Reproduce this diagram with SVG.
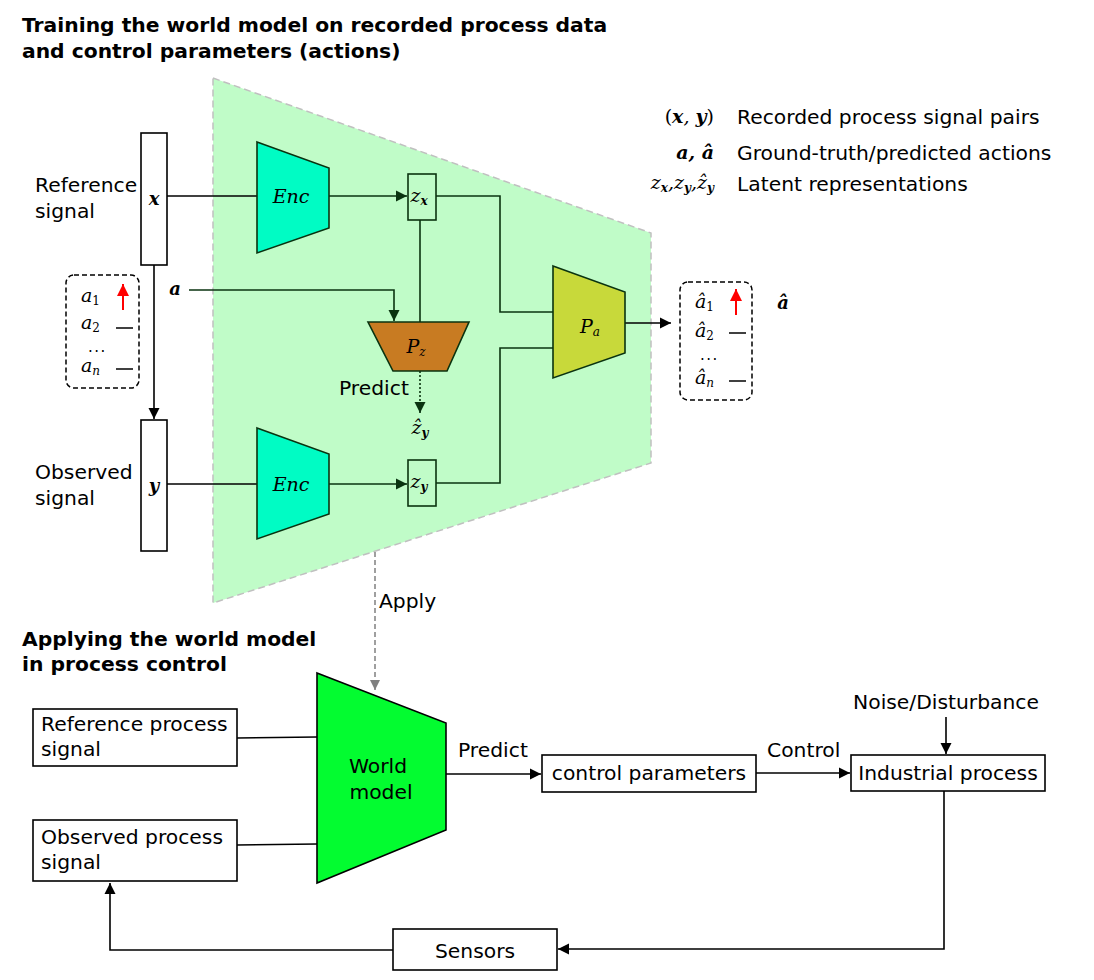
<svg xmlns="http://www.w3.org/2000/svg" width="1094" height="980" viewBox="0 0 1094 980">
<defs>
<style>
.t{font-family:"DejaVu Sans","Noto Sans",sans-serif;font-size:20.3px;fill:#000}
.h{font-family:"DejaVu Sans","Noto Sans",sans-serif;font-size:20.3px;font-weight:bold;fill:#000}
.m{font-family:"DejaVu Serif","Liberation Serif",serif;font-style:italic;font-size:19px;fill:#000}
.mb{font-family:"DejaVu Serif","Liberation Serif",serif;font-style:italic;font-weight:bold;font-size:18px;fill:#000}
.dots{font-family:"DejaVu Sans","Noto Sans",sans-serif;font-size:15px;letter-spacing:1.5px;fill:#000}
.sub{font-size:12px}
.up{font-style:normal}
.ln{fill:none;stroke:#000;stroke-width:1.6}
.lg{fill:none;stroke:#0a3310;stroke-width:1.6}
.box{fill:#fff;stroke:#000;stroke-width:1.6}
.zb{fill:#c0fcc8;stroke:#0a3310;stroke-width:1.6}
.dash{fill:#fff;stroke:#000;stroke-width:1.5;stroke-dasharray:5 3}
</style>
<marker id="ah" viewBox="0 0 10 10" refX="10" refY="5" markerWidth="7" markerHeight="7" orient="auto"><path d="M0,0 L10,5 L0,10 z" fill="#000"/></marker>
<marker id="ag" viewBox="0 0 10 10" refX="10" refY="5" markerWidth="7" markerHeight="7" orient="auto"><path d="M0,0 L10,5 L0,10 z" fill="#0a3310"/></marker>
<marker id="agr" viewBox="0 0 10 10" refX="10" refY="5" markerWidth="7" markerHeight="7" orient="auto"><path d="M0,0 L10,5 L0,10 z" fill="#808080"/></marker>
<marker id="ar" viewBox="0 0 10 10" refX="10" refY="5" markerWidth="6" markerHeight="6" orient="auto"><path d="M0,0 L10,5 L0,10 z" fill="#ff0000"/></marker>
</defs>
<rect width="1094" height="980" fill="#fff"/>

<g id="titles">
<text class="h" x="22" y="32">Training the world model on recorded process data</text>
<text class="h" x="22" y="58">and control parameters (actions)</text>
<text class="h" x="22" y="646">Applying the world model</text>
<text class="h" x="22" y="671">in process control</text>
</g>

<g id="world-model-area">
<polygon points="213,78 651,233 651,463 213,603" fill="#c0fcc8" stroke="#c0c0c0" stroke-width="1.5" stroke-dasharray="7 4"/>
</g>

<g id="legend">
<text class="m" x="714" y="123" text-anchor="end"><tspan class="up">(</tspan><tspan font-weight="bold">x</tspan>, <tspan font-weight="bold">y</tspan><tspan class="up">)</tspan></text>
<text class="t" x="737" y="124">Recorded process signal pairs</text>
<text class="m" x="714" y="159" text-anchor="end" font-weight="bold">a, â</text>
<text class="t" x="737" y="160">Ground-truth/predicted actions</text>
<text class="m" x="714" y="189" text-anchor="end">z<tspan class="sub" font-weight="bold" dy="3">x</tspan><tspan dy="-3">,z</tspan><tspan class="sub" font-weight="bold" dy="3">y</tspan><tspan dy="-3">,ẑ</tspan><tspan class="sub" font-weight="bold" dy="3">y</tspan></text>
<text class="t" x="737" y="191">Latent representations</text>
</g>

<g id="connectors">
<line class="ln" x1="167" y1="196" x2="257" y2="196"/>
<line class="ln" x1="154" y1="265" x2="154" y2="419" marker-end="url(#ah)"/>
<line class="ln" x1="167" y1="484" x2="257" y2="484"/>
<line class="lg" x1="329" y1="196" x2="407" y2="196" marker-end="url(#ag)"/>
<line class="lg" x1="329" y1="484" x2="407" y2="484" marker-end="url(#ag)"/>
<polyline class="lg" points="436,196 500,196 500,312 553,312"/>
<polyline class="lg" points="553,348 500,348 500,483 436,483"/>
<line class="lg" x1="420" y1="220" x2="420" y2="322"/>
<polyline class="lg" points="189,290 394,290 394,321" marker-end="url(#ag)"/>
<line class="lg" x1="420" y1="371" x2="420" y2="413" stroke-dasharray="2 2" marker-end="url(#ag)"/>
<line class="ln" x1="625" y1="323" x2="671" y2="323" marker-end="url(#ah)"/>
<line x1="375" y1="552" x2="375" y2="690" stroke="#808080" stroke-width="1.5" stroke-dasharray="5 3" marker-end="url(#agr)"/>
<line class="ln" x1="237" y1="738" x2="317" y2="737"/>
<line class="ln" x1="237" y1="845" x2="317" y2="844"/>
<line class="ln" x1="446" y1="774" x2="541" y2="774" marker-end="url(#ah)"/>
<line class="ln" x1="756" y1="773" x2="850" y2="773" marker-end="url(#ah)"/>
<line class="ln" x1="946" y1="717" x2="946" y2="754" marker-end="url(#ah)"/>
<polyline class="ln" points="944,791 944,949 558,949" marker-end="url(#ah)"/>
<polyline class="ln" points="393,950 110,950 110,883" marker-end="url(#ah)"/>
<text class="t" x="339" y="395">Predict</text>
<text class="m" x="420" y="434" text-anchor="middle">ẑ<tspan class="sub" font-weight="bold" dy="3">y</tspan></text>
<text class="mb" x="175" y="295" text-anchor="middle">a</text>
<text class="t" x="379" y="608">Apply</text>
<text class="t" x="458" y="757">Predict</text>
<text class="t" x="767" y="757">Control</text>
<text class="t" x="946" y="709" text-anchor="middle">Noise/Disturbance</text>
</g>

<g id="x-signal">
<rect class="box" x="141" y="133" width="26" height="132"/>
<text class="mb" x="154" y="205" text-anchor="middle">x</text>
<text class="t" x="35" y="192">Reference</text>
<text class="t" x="35" y="218">signal</text>
</g>

<g id="y-signal">
<rect class="box" x="141" y="420" width="26" height="131"/>
<text class="mb" x="154" y="492" text-anchor="middle">y</text>
<text class="t" x="35" y="479">Observed</text>
<text class="t" x="35" y="505">signal</text>
</g>

<g id="actions-a">
<rect class="dash" x="66" y="275" width="73" height="113" rx="8"/>
<text class="m" x="81" y="302">a<tspan class="sub up" dy="3">1</tspan></text>
<line x1="123" y1="310" x2="123" y2="284" stroke="#ff0000" stroke-width="2" marker-end="url(#ar)"/>
<text class="m" x="81" y="329">a<tspan class="sub up" dy="3">2</tspan></text>
<line x1="116" y1="328" x2="133" y2="328" stroke="#000" stroke-width="1.5"/>
<text class="dots" x="88" y="352">...</text>
<text class="m" x="81" y="372">a<tspan class="sub" dy="3">n</tspan></text>
<line x1="116" y1="369" x2="133" y2="369" stroke="#000" stroke-width="1.5"/>
</g>

<g id="enc-x">
<polygon points="257,142 329,168 329,228 257,253" fill="#00fcc4" stroke="#0a3310" stroke-width="1.6"/>
<text class="m" x="291" y="203" text-anchor="middle" fill="#0a3310">Enc</text>
</g>

<g id="enc-y">
<polygon points="257,428 329,454 329,514 257,539" fill="#00fcc4" stroke="#0a3310" stroke-width="1.6"/>
<text class="m" x="291" y="491" text-anchor="middle" fill="#0a3310">Enc</text>
</g>

<g id="zx">
<rect class="zb" x="408" y="174" width="28" height="46"/>
<text class="m" x="419" y="202" text-anchor="middle">z<tspan class="sub" font-weight="bold" dy="3">x</tspan></text>
</g>

<g id="zy">
<rect class="zb" x="408" y="460" width="28" height="46"/>
<text class="m" x="419" y="488" text-anchor="middle">z<tspan class="sub" font-weight="bold" dy="3">y</tspan></text>
</g>

<g id="pz">
<polygon points="368,322 469,322 447,371 393,371" fill="#c87b22" stroke="#0a3310" stroke-width="1.6"/>
<text class="m" x="416" y="353" text-anchor="middle" fill="#0a3310">P<tspan class="sub" dy="3">z</tspan></text>
</g>

<g id="pa">
<polygon points="553,266 625,292 625,353 553,378" fill="#c8d93a" stroke="#0a3310" stroke-width="1.6"/>
<text class="m" x="590" y="333" text-anchor="middle" fill="#0a3310">P<tspan class="sub" dy="3">a</tspan></text>
</g>

<g id="actions-ahat">
<rect class="dash" x="680" y="282" width="72" height="118" rx="8"/>
<text class="m" x="695" y="308">â<tspan class="sub up" dy="3">1</tspan></text>
<line x1="736" y1="315" x2="736" y2="289" stroke="#ff0000" stroke-width="2" marker-end="url(#ar)"/>
<text class="m" x="695" y="337">â<tspan class="sub up" dy="3">2</tspan></text>
<line x1="729" y1="333" x2="746" y2="333" stroke="#000" stroke-width="1.5"/>
<text class="dots" x="700" y="360">...</text>
<text class="m" x="695" y="384">â<tspan class="sub" dy="3">n</tspan></text>
<line x1="729" y1="381" x2="746" y2="381" stroke="#000" stroke-width="1.5"/>
<text class="mb" x="783" y="309" text-anchor="middle">â</text>
</g>

<g id="world-model">
<polygon points="317,673 446,723 446,830 317,883" fill="#03fc30" stroke="#000" stroke-width="1.6"/>
<text class="t" x="378" y="773" text-anchor="middle">World</text>
<text class="t" x="381" y="799" text-anchor="middle">model</text>
</g>

<g id="ref-process-signal">
<rect class="box" x="33" y="709" width="204" height="57"/>
<text class="t" x="41" y="731">Reference process</text>
<text class="t" x="41" y="756">signal</text>
</g>

<g id="obs-process-signal">
<rect class="box" x="33" y="820" width="204" height="61"/>
<text class="t" x="41" y="844">Observed process</text>
<text class="t" x="41" y="869">signal</text>
</g>

<g id="control-parameters">
<rect class="box" x="542" y="755" width="214" height="37"/>
<text class="t" x="649" y="780" text-anchor="middle">control parameters</text>
</g>

<g id="industrial-process">
<rect class="box" x="851" y="755" width="194" height="36"/>
<text class="t" x="948" y="780" text-anchor="middle">Industrial process</text>
</g>

<g id="sensors">
<rect class="box" x="393" y="929" width="164" height="41"/>
<text class="t" x="475" y="958" text-anchor="middle">Sensors</text>
</g>
</svg>
